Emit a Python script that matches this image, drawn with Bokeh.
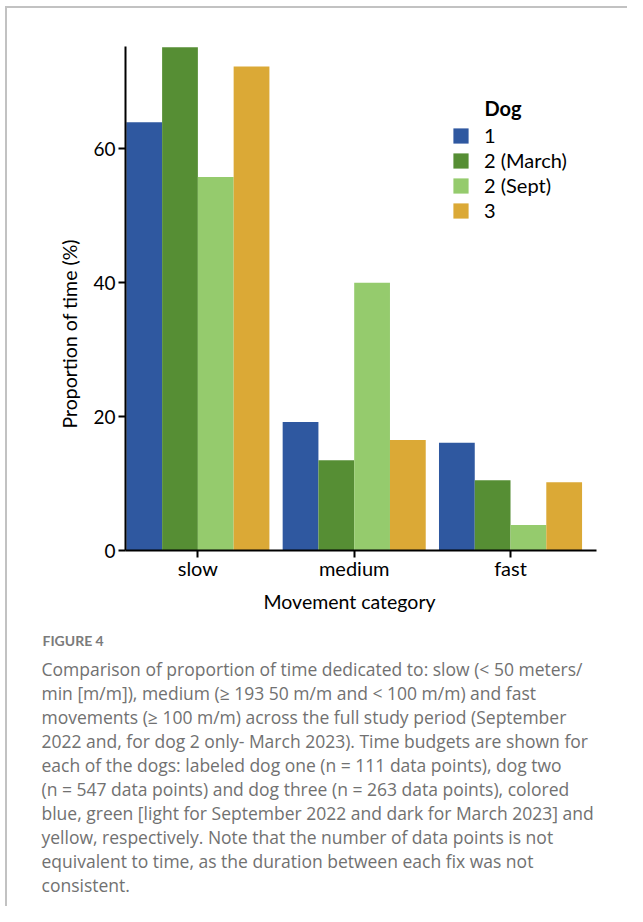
from bokeh.plotting import figure
from bokeh.layouts import column
from bokeh.models import Range1d, FixedTicker, Legend, LegendItem, Label, Title
from bokeh.core.properties import value
from bokeh.embed import file_html
from bokeh.resources import INLINE

# ---- data ----
categories = ["slow", "medium", "fast"]
dogs = ["1", "2 (March)", "2 (Sept)", "3"]
dog1 = [64.0, 19.2, 16.1]
dog2_march = [75.2, 13.5, 10.5]
dog2_sept = [55.8, 40.0, 3.8]
dog3 = [72.3, 16.5, 10.2]
y_ticks = [0, 20, 40, 60]

x_title = "Movement category"
y_title = "Proportion of time (%)"
legend_title = "Dog"
caption_title = "FIGURE 4"
caption_lines = [
    "Comparison of proportion of time dedicated to: slow (< 50 meters/",
    "min [m/m]), medium (\u2265 193 50 m/m and < 100 m/m) and fast",
    "movements (\u2265 100 m/m) across the full study period (September",
    "2022 and, for dog 2 only- March 2023). Time budgets are shown for",
    "each of the dogs: labeled dog one (n = 111 data points), dog two",
    "(n = 547 data points) and dog three (n = 263 data points), colored",
    "blue, green [light for September 2022 and dark for March 2023] and",
    "yellow, respectively. Note that the number of data points is not",
    "equivalent to time, as the duration between each fix was not",
    "consistent.",
]

series = [dog1, dog2_march, dog2_sept, dog3]
colors = ["#2F58A0", "#568E34", "#95CB6D", "#DBA936"]

FONT = "Lato"
CAP_FONT = "Open Sans"
W, H = 627, 906
CH = 630                       # height of chart part
FL, FT, FR, FB = 125, 46, 596, 550   # frame edges (px)

p = figure(width=W, height=CH, output_backend="svg", toolbar_location=None,
           x_range=Range1d(-0.463, 2.55), y_range=Range1d(0, 75.3),
           min_border_left=FL, min_border_top=FT,
           min_border_right=W - FR, min_border_bottom=CH - FB)
p.frame_align = False

bw = 0.2288
items = []
for j, (name, vals) in enumerate(zip(dogs, series)):
    xs = [i + (j - 1.5) * bw for i in range(len(categories))]
    r = p.vbar(x=xs, top=vals, width=bw, fill_color=colors[j], line_color=None)
    items.append(LegendItem(label=name, renderers=[r]))

p.xgrid.visible = False
p.ygrid.visible = False
p.outline_line_color = None
p.background_fill_alpha = 0
p.border_fill_alpha = 0

for ax in (p.xaxis[0], p.yaxis[0]):
    ax.axis_line_width = 2
    ax.axis_line_color = "black"
    ax.major_tick_line_width = 2
    ax.major_tick_line_color = "black"
    ax.major_tick_in = 0
    ax.major_tick_out = 7
    ax.minor_tick_line_color = None
    ax.major_label_text_font = FONT
    ax.major_label_text_color = "black"

p.yaxis[0].ticker = FixedTicker(ticks=y_ticks)
p.yaxis[0].major_label_standoff = 3
p.yaxis[0].major_label_text_font_size = "19px"

p.xaxis[0].ticker = FixedTicker(ticks=list(range(len(categories))))
p.xaxis[0].major_label_overrides = {i: c for i, c in enumerate(categories)}
p.xaxis[0].major_label_standoff = -2
p.xaxis[0].major_label_text_font_size = "20px"

p.add_layout(Title(text=y_title, align="left", offset=FB - 428, standoff=20,
                   text_font=FONT, text_font_size="19.5px", text_font_style="normal",
                   text_color="black"), "left")
p.add_layout(Title(text=x_title, align="left", offset=263 - FL, standoff=11,
                   text_font=FONT, text_font_size="19.5px", text_font_style="normal",
                   text_color="black"), "below")

legend = Legend(items=items, location=(451 - FL, FB - 222),
                padding=0, margin=0, spacing=1, glyph_width=19, glyph_height=19,
                label_height=19, label_standoff=14,
                border_line_color=None, background_fill_alpha=0)
legend.label_text_font = FONT
legend.label_text_font_size = "20px"
legend.label_text_color = "black"
p.add_layout(legend, "center")

p.add_layout(Label(x=484 - FL, y=FB - 107, x_units="screen", y_units="screen",
                   text=legend_title, text_font=FONT, text_font_size="20px",
                   text_font_style="bold", text_color="black",
                   text_baseline="alphabetic"))

# ---- caption panel (coordinates in px, y downward) ----
c = figure(width=W, height=H - CH, output_backend="svg", toolbar_location=None,
           x_range=Range1d(0, W), y_range=Range1d(H, CH),
           min_border=0, x_axis_type=None, y_axis_type=None)
c.frame_align = False
c.xgrid.visible = False
c.ygrid.visible = False
c.outline_line_color = None
c.background_fill_alpha = 0
c.border_fill_alpha = 0

c.text(x=[42], y=[640], text=[caption_title], text_font=value(FONT),
       text_font_size="14px", text_font_style="bold", text_color="#7b7b7b",
       text_baseline="alphabetic", text_align="left")
c.text(x=[41] * len(caption_lines), y=[668 + 24 * k for k in range(len(caption_lines))],
       text=caption_lines, text_font=value(CAP_FONT), text_font_size="17.5px",
       text_color="#717171", text_baseline="alphabetic", text_align="left")

lay = column(p, c, spacing=0)
lay.styles = {
    "background": "linear-gradient(#c2c2c2, #c2c2c2) 5px 6px / 2px calc(100% - 6px) no-repeat, "
                  "linear-gradient(#c2c2c2, #c2c2c2) 5px 6px / calc(100% - 5px) 2px no-repeat, #ffffff"
}

open("out.html", "w").write(file_html(lay, INLINE))
